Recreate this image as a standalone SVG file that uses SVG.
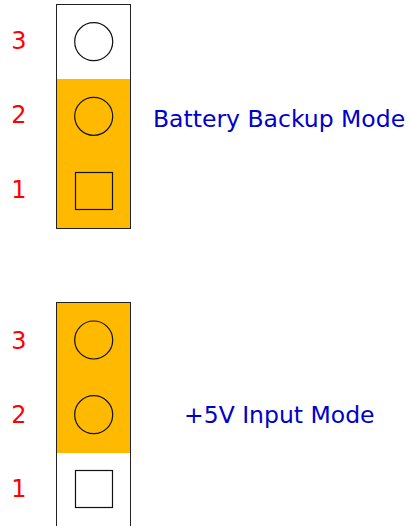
<svg xmlns="http://www.w3.org/2000/svg" width="410" height="526" viewBox="0 0 410 526">
<style>
.box{fill:#fff;stroke:#222;stroke-width:1}
.on{fill:#FFBA00}
.pin{fill:none;stroke:#111;stroke-width:1.2}
.num{font-family:"DejaVu Sans",Verdana,sans-serif;font-size:24px;fill:#FF0000;text-anchor:middle}
.lbl{font-family:"DejaVu Sans",Verdana,sans-serif;font-size:23.5px;fill:#0000CC}
</style>
<rect width="410" height="526" fill="#fff"/>
<g id="jumper-battery">
<rect class="box" x="56.5" y="4.5" width="74" height="224"/>
<rect class="on" x="57" y="79" width="73" height="149"/>
<circle class="pin" cx="93.7" cy="41.7" r="19"/>
<circle class="pin" cx="93.7" cy="116.3" r="19"/>
<rect class="pin" x="75.5" y="172.5" width="37" height="37"/>
<text class="num" x="19" y="49">3</text>
<text class="num" x="19" y="123">2</text>
<text class="num" x="19" y="198">1</text>
<text class="lbl" x="153" y="127">Battery Backup Mode</text>
</g>
<g id="jumper-5v">
<rect class="box" x="56.5" y="302.5" width="74" height="230"/>
<rect class="on" x="57" y="303" width="73" height="150"/>
<circle class="pin" cx="93.7" cy="340" r="19"/>
<circle class="pin" cx="93.7" cy="414.7" r="19"/>
<rect class="pin" x="75.5" y="470.5" width="37" height="37"/>
<text class="num" x="19" y="349">3</text>
<text class="num" x="19" y="422.5">2</text>
<text class="num" x="19" y="497">1</text>
<text class="lbl" x="184" y="423">+5V Input Mode</text>
</g>
<g id="connectors"/>
</svg>
